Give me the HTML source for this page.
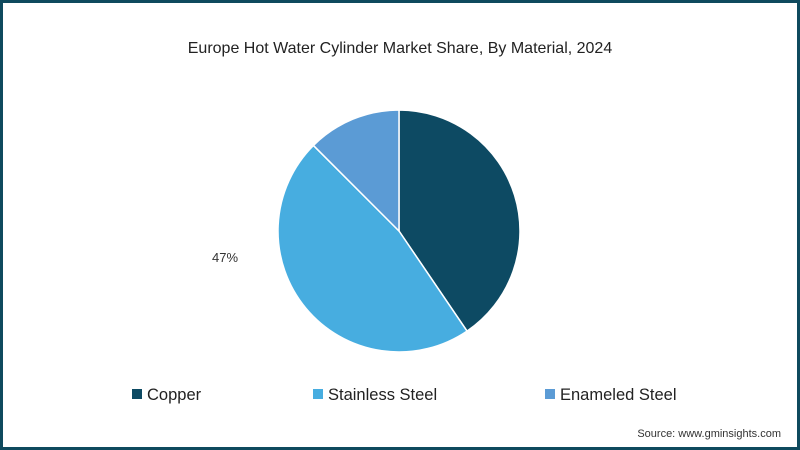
<!DOCTYPE html>
<html><head><meta charset="utf-8"><style>
html,body{margin:0;padding:0;}
body{width:800px;height:450px;overflow:hidden;background:#fff;font-family:"Liberation Sans",sans-serif;}
#frame{position:absolute;left:0;top:0;width:794px;height:444px;border:3px solid #0f4a5e;background:#fff;}
</style></head><body>
<div id="frame"></div>
<svg width="800" height="450" style="position:absolute;left:0;top:0">
<text x="400" y="53" text-anchor="middle" font-size="16" fill="#222">Europe Hot Water Cylinder Market Share, By Material, 2024</text>
<g id="slices"></g>
<text x="225" y="262" text-anchor="middle" font-size="13" fill="#333">47%</text>
<g id="legend"></g>
<text x="781" y="437" text-anchor="end" font-size="11" fill="#333">Source: www.gminsights.com</text>
</svg>
<script>
const categories = ["Copper","Stainless Steel","Enameled Steel"];
const values = [40.5, 47, 12.5];
const colors = ["#0d4a63","#47ade0","#5b9bd5"];
const NS="http://www.w3.org/2000/svg";
const cx=399, cy=231, r=121;
const total=values.reduce((a,b)=>a+b,0);
const g=document.getElementById('slices');
let a0=0;
values.forEach((v,i)=>{
  const a1=a0+v/total*2*Math.PI;
  const x0=cx+r*Math.sin(a0), y0=cy-r*Math.cos(a0);
  const x1=cx+r*Math.sin(a1), y1=cy-r*Math.cos(a1);
  const p=document.createElementNS(NS,'path');
  p.setAttribute('d',`M${cx},${cy}L${x0},${y0}A${r},${r} 0 ${(a1-a0)>Math.PI?1:0} 1 ${x1},${y1}Z`);
  p.setAttribute('fill',colors[i]);
  p.setAttribute('stroke','#fff');
  p.setAttribute('stroke-width','1.5');
  
  
  g.appendChild(p);
  a0=a1;
});
const lg=document.getElementById('legend');
const lx=[132,313,545];
categories.forEach((c,i)=>{
  const e=document.createElementNS(NS,'g');
  
  
  const s=document.createElementNS(NS,'rect');
  s.setAttribute('x',lx[i]);s.setAttribute('y',389);s.setAttribute('width',10);s.setAttribute('height',10);
  s.setAttribute('fill',colors[i]);
  const t=document.createElementNS(NS,'text');
  t.setAttribute('x',lx[i]+15);t.setAttribute('y',400);t.setAttribute('font-size','16.5');t.setAttribute('fill','#222');
  t.textContent=c;
  e.appendChild(s);e.appendChild(t);lg.appendChild(e);
});
</script>
</body></html>
